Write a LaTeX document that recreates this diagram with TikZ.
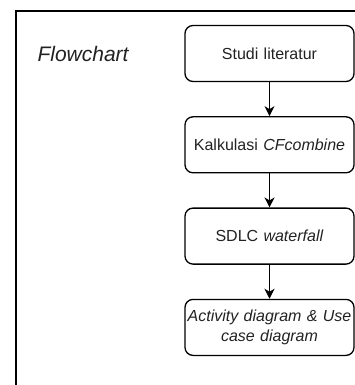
\documentclass[tikz,border=0pt]{standalone}
\usepackage{fontspec}
\setmainfont{Liberation Sans}
\usetikzlibrary{positioning,arrows.meta}
\definecolor{inkgray}{HTML}{222222}
\tikzset{
 stage/.style = {draw, rounded corners=8pt, line width=1.3pt,
   minimum width=169pt, minimum height=56pt, text width=166pt,
   align=center, inner sep=0pt, text=inkgray,
   font=\fontsize{16}{20}\selectfont},
 flow/.style = {-{Stealth[length=10pt,width=10pt,inset=3pt]}, line width=1.3pt}
}

\begin{document}
\begin{tikzpicture}[x=1pt, y=1pt, node distance=34pt]
    \useasboundingbox (0,0) rectangle (355,-385);
    % frame of the cell
    \draw[line width=2pt] (16,-385) -- (16,-11.5) -- (355,-11.5);
    \node (title) [anchor=west, text=inkgray, font=\fontsize{21}{25}\selectfont\itshape] at (34,-54) {Flowchart};

    \node (studi) [stage] at (269.5,-53.5) {Studi literatur};
    \node (kalk) [stage, below=of studi] {Kalkulasi \textit{CFcombine}};
    \node (sdlc) [stage, below=of kalk] {SDLC \textit{waterfall}};
    \node (uml) [stage, below=of sdlc, font=\fontsize{16}{20}\selectfont\itshape] {Activity diagram \& Use\\case diagram};

    \draw[flow] (studi) -- (kalk);
    \draw[flow] (kalk) -- (sdlc);
    \draw[flow] (sdlc) -- (uml);
\end{tikzpicture}
\end{document}
